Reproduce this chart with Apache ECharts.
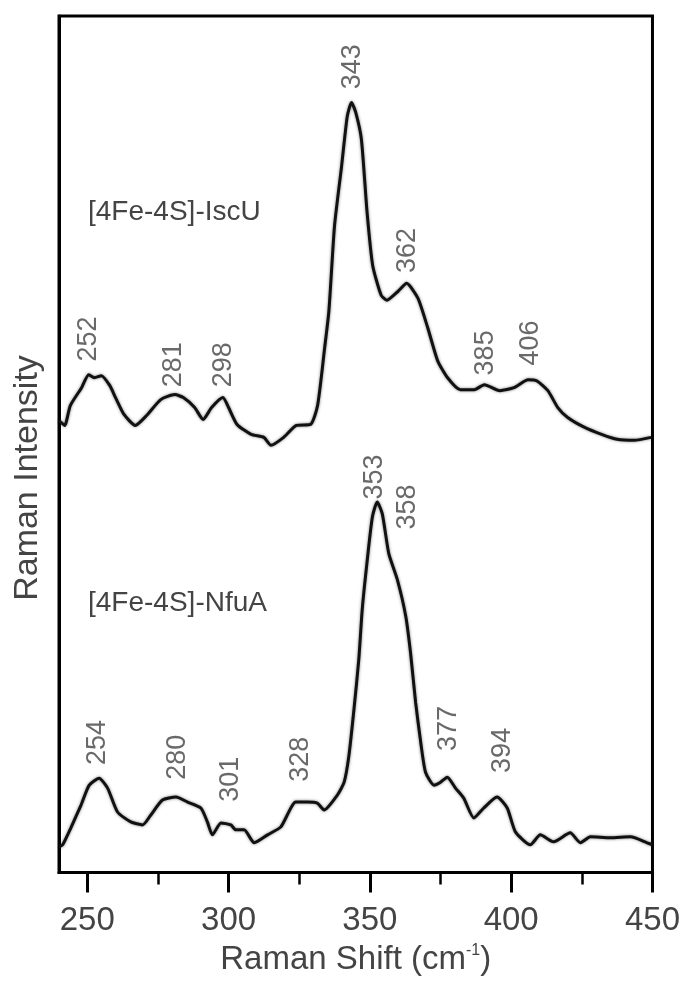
<!DOCTYPE html>
<html>
<head>
<meta charset="utf-8">
<script src="https://cdn.jsdelivr.net/npm/echarts@6/dist/echarts.min.js"></script>
<style>
  html, body { margin: 0; padding: 0; background: #fff; }
  #chart { width: 683px; height: 981px; }
</style>
</head>
<body>
<div id="chart"></div>
<script>
// Raman spectra, intensity in arbitrary units (two traces stacked)
const iscuShift = [240, 242, 244, 248, 250.5, 252.5, 255, 258, 260, 263, 267, 271, 276, 281, 284, 288, 291, 294, 298, 300, 303, 308, 312.5, 315, 319.5, 324, 329, 331.5, 334, 335.5, 337.5, 340, 342, 343.5, 345, 347, 349, 351, 354, 356, 360, 363, 367, 370.5, 374, 377.5, 382, 387, 390.5, 396, 401, 406, 409, 413, 416.5, 420, 426, 432, 437.5, 443.5, 449.5];
const iscuIntensity = [455, 450, 470, 488, 501, 498, 500, 490, 478, 461, 450, 460, 476, 481, 478, 468, 456, 468, 478, 468, 451, 441, 438, 430, 438, 450, 451, 470, 528, 565, 651, 711, 761, 775, 765, 738, 665, 611, 581, 576, 585, 593, 578, 548, 515, 498, 486, 486, 491, 485, 488, 496, 495, 485, 468, 458, 448, 441, 436, 435, 438];

const nfuaShift = [240, 241.3, 244.2, 247.8, 250.7, 254.2, 257.2, 260.7, 265.4, 269.6, 272.5, 276.6, 281.4, 285.5, 290.2, 292.5, 294.3, 297.3, 300.8, 302.6, 305.5, 309.1, 313.8, 318.5, 323.8, 327.9, 331.4, 333.8, 338.5, 340.9, 342.6, 344.4, 346.1, 347.3, 349.1, 350.9, 352.6, 354.4, 356.7, 359.7, 362.7, 364.4, 366.2, 368, 369.7, 372.7, 375, 377.4, 380.3, 383.2, 386.8, 390.3, 395, 398.6, 401.5, 406.8, 410.3, 415, 420.9, 424.5, 428, 435.1, 442.2, 448.1, 450];
const nfuaIntensity = [26, 28, 45, 68, 88, 95, 85, 61, 51, 48, 58, 73, 76, 71, 65, 51, 38, 50, 48, 43, 43, 30, 38, 46, 71, 71, 70, 63, 78, 91, 118, 165, 215, 265, 315, 358, 373, 361, 321, 295, 258, 221, 171, 131, 101, 88, 91, 96, 85, 75, 55, 65, 76, 65, 41, 28, 38, 31, 40, 30, 36, 35, 36, 30, 28];

// peak labels and where they sit (shift, intensity)
const iscuPeaks = ['343', '362', '252', '281', '298', '385', '406'];
const iscuPeakPos = [[344, 811], [363.4, 626], [250.6, 537], [280.6, 511], [298.3, 511], [391, 523], [406.8, 533]];
const nfuaPeaks = ['353', '358', '254', '280', '301', '328', '377', '394'];
const nfuaPeakPos = [[351.6, 398], [363.4, 368], [253.8, 131], [282, 116], [300.8, 94], [325.5, 114], [377.9, 145], [397, 123]];

const majorTicks = [250, 300, 350, 400, 450];
const minorTicks = [275, 325, 375, 425];

const font = '"Liberation Sans", Arial, sans-serif';
const textGray = '#444';

function pairs(xs, ys) {
    return xs.map((x, i) => [x, ys[i]]);
}
function labelPoints(names, pos) {
    return names.map((n, i) => ({ value: pos[i], name: n }));
}

const lineStyle = {
    color: '#111',
    width: 3,
    shadowColor: 'rgba(0,0,0,0.5)',
    shadowBlur: 3
};
const peakLabel = {
    show: true,
    position: 'inside',
    rotate: 90,
    formatter: p => p.name,
    fontFamily: font,
    fontSize: 27,
    color: textGray
};

let chart = echarts.init(document.getElementById('chart'));

let options = {
    animation: false,
    backgroundColor: '#fff',
    grid: {
        left: 59, right: 30, top: 16, bottom: 103,
        show: true,
        borderColor: '#000',
        borderWidth: 3
    },
    xAxis: [{
        type: 'value',
        min: 240, max: 450,
        position: 'bottom',
        name: '{t|Raman Shift (cm}{s|-1}{t|)}',
        nameLocation: 'middle',
        nameGap: 62,
        nameTextStyle: {
            rich: {
                t: { fontFamily: font, fontSize: 33, color: textGray },
                s: { fontFamily: font, fontSize: 16, color: textGray, padding: [0, 0, 18, 0] }
            }
        },
        axisLine: { show: true, lineStyle: { color: '#000', width: 3 } },
        axisTick: { show: true, customValues: majorTicks, length: 20, lineStyle: { color: '#000', width: 3 } },
        axisLabel: { customValues: majorTicks, margin: 32, fontFamily: font, fontSize: 33, color: textGray },
        splitLine: { show: false }
    }, {
        type: 'value',
        min: 240, max: 450,
        position: 'bottom',
        axisLine: { show: false },
        axisTick: { show: true, customValues: minorTicks, length: 12, lineStyle: { color: '#000', width: 2.5 } },
        axisLabel: { show: false },
        splitLine: { show: false }
    }],
    yAxis: {
        type: 'value',
        min: 0, max: 862,
        axisLine: { show: true, lineStyle: { color: '#000', width: 3 } },
        axisTick: { show: false },
        axisLabel: { show: false },
        splitLine: { show: false }
    },
    graphic: [{
        type: 'text',
        position: [28, 478],
        rotation: Math.PI / 2,
        style: {
            text: 'Raman Intensity',
            x: 0, y: 0,
            align: 'center', verticalAlign: 'middle',
            font: '34px ' + font,
            fill: textGray
        }
    }, {
        type: 'text',
        position: [88, 212],
        style: { text: '[4Fe-4S]-IscU', verticalAlign: 'middle', font: '28px ' + font, fill: textGray }
    }, {
        type: 'text',
        position: [88, 603],
        style: { text: '[4Fe-4S]-NfuA', verticalAlign: 'middle', font: '28px ' + font, fill: textGray }
    }],
    series: [{
        name: 'IscU',
        type: 'line',
        showSymbol: false,
        smooth: 0.2,
        lineStyle: lineStyle,
        data: pairs(iscuShift, iscuIntensity)
    }, {
        name: 'NfuA',
        type: 'line',
        showSymbol: false,
        smooth: 0.2,
        lineStyle: lineStyle,
        data: pairs(nfuaShift, nfuaIntensity)
    }, {
        name: 'IscU peaks',
        type: 'scatter',
        symbolSize: 0,
        label: peakLabel,
        data: labelPoints(iscuPeaks, iscuPeakPos)
    }, {
        name: 'NfuA peaks',
        type: 'scatter',
        symbolSize: 0,
        label: peakLabel,
        data: labelPoints(nfuaPeaks, nfuaPeakPos)
    }]
};

chart.setOption(options);
</script>
</body>
</html>
